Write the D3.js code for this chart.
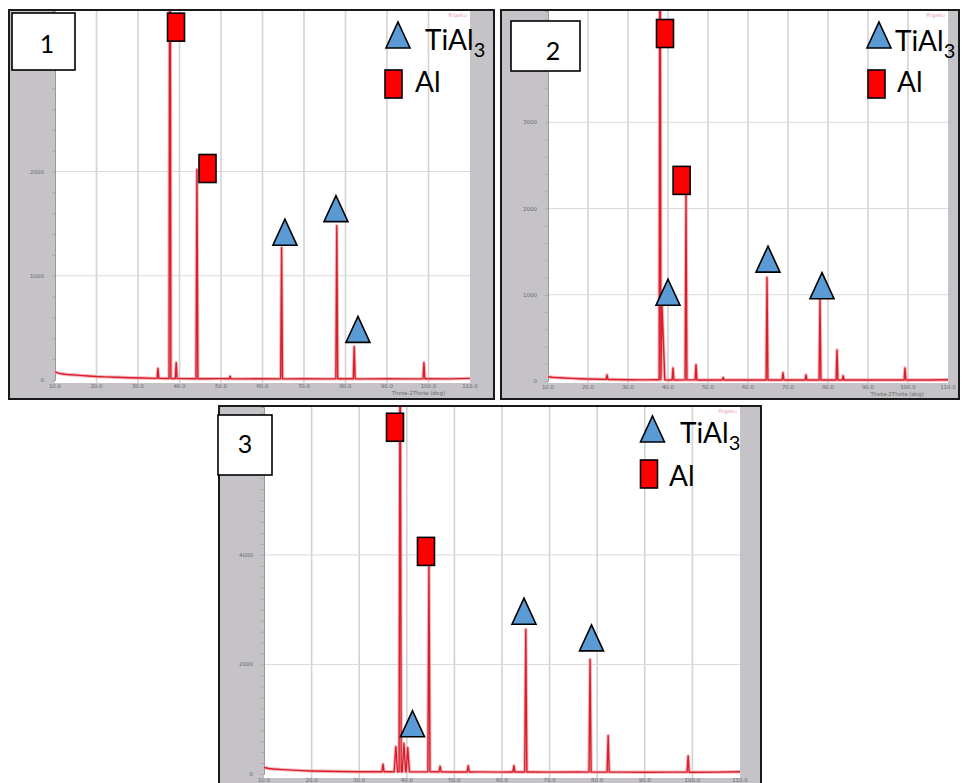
<!DOCTYPE html>
<html>
<head>
<meta charset="utf-8">
<script src="https://cdn.jsdelivr.net/npm/d3@7"></script>
<style>
  body { margin: 0; background: #fff; }
  svg { display: block; }
</style>
</head>
<body>
<svg id="viz"></svg>
<script>
// x axis of every scan: 2Theta (deg)
const twoThetaTicks = [10, 20, 30, 40, 50, 60, 70, 80, 90, 100, 110];

// ---- scan 1 ----  [2theta, counts]
const base1 = [[10, 78], [11, 64], [12, 58], [13, 52], [14, 50], [16, 44], [18, 38], [20, 33], [22, 30], [25, 26],
  [28, 22], [31, 19], [34, 16], [37, 14], [41, 13], [46, 12], [50, 13], [55, 11], [60, 12], [66, 11], [70, 12],
  [75, 11], [80, 12], [86, 11], [90, 12], [95, 11], [100, 12], [105, 11], [110, 16]];
const peaks1 = [[34.8, 110], [37.7, 6000], [39.2, 165], [44.2, 2020], [52.2, 35], [64.6, 1270], [77.9, 1480],
  [82.1, 320], [98.9, 165]];
const marks1 = [["Al", 39.16, 3385], ["Al", 46.75, 2029], ["TiAl3", 65.4, 1418], ["TiAl3", 77.7, 1644], ["TiAl3", 83.0, 486]];
const yTicks1 = [1000, 2000];

// ---- scan 2 ----
const base2 = [[10, 50], [11, 44], [12, 40], [14, 35], [16, 30], [18, 26], [20, 24], [23, 20], [26, 17], [30, 15],
  [34, 13], [37, 14], [42, 12], [46, 13], [50, 11], [55, 12], [60, 11], [66, 12], [70, 11], [76, 12], [80, 11],
  [86, 12], [90, 11], [95, 12], [100, 11], [105, 12], [110, 15]];
const peaks2 = [[24.75, 70], [38.0, 7000], [38.5, 880, 0.7], [41.25, 150], [44.5, 2160], [47.0, 190], [53.8, 40],
  [64.75, 1200], [68.75, 95], [74.5, 70], [78.0, 950], [82.25, 360], [83.8, 60], [99.25, 150]];
const marks2 = [["Al", 39.25, 4029], ["Al", 43.4, 2326], ["TiAl3", 40.0, 1029], ["TiAl3", 65.0, 1413], ["TiAl3", 78.5, 1105]];
const yTicks2 = [1000, 2000, 3000];

// ---- scan 3 ----
const base3 = [[10, 120], [11, 100], [12, 90], [14, 80], [16, 70], [18, 62], [20, 55], [23, 50], [26, 46], [30, 42],
  [34, 40], [37, 42], [42, 38], [46, 40], [50, 36], [55, 38], [60, 35], [66, 37], [70, 34], [76, 36], [80, 34],
  [86, 35], [90, 33], [95, 35], [100, 33], [105, 34], [110, 40]];
const peaks3 = [[35.0, 180], [37.7, 500, 0.35], [38.6, 9000], [39.4, 560, 0.35], [40.2, 480, 0.35], [44.65, 3800],
  [47.0, 140], [52.9, 150], [62.5, 150], [65.0, 2640], [78.5, 2090], [82.3, 700], [99.1, 330]];
const marks3 = [["Al", 37.52, 6330], ["Al", 44.03, 4064], ["TiAl3", 41.2, 917], ["TiAl3", 64.62, 2972], ["TiAl3", 78.8, 2486]];
const yTicks3 = [2000, 4000];

// Layout of the three scans (scan 3 runs off the bottom edge, so its axis title is cut away)
const panels = [
  {
    name: "1", box: [9, 10, 485, 389], plot: [55, 11, 470, 383], y0: 380, yMax: 3540,
    base: base1, peaks: peaks1, marks: marks1, yTicks: yTicks1, axisTitle: true,
    tag: [12, 13, 63, 57], tagText: [47, 53],
    legend: { tri: [398, 35], ti: [425, 50], rect: [393.5, 84], al: [415, 92] },
  },
  {
    name: "2", box: [501, 10, 458, 389], plot: [548, 11, 948, 383], y0: 381, yMax: 4290,
    base: base2, peaks: peaks2, marks: marks2, yTicks: yTicks2, axisTitle: true,
    tag: [511, 21, 69, 50], tagText: [553, 60],
    legend: { tri: [879, 35], ti: [895, 51], rect: [876.5, 84], al: [897, 92] },
  },
  {
    name: "3", box: [219, 406, 542, 385], plot: [264, 407, 740, 778], y0: 774, yMax: 6700,
    base: base3, peaks: peaks3, marks: marks3, yTicks: yTicks3, axisTitle: false,
    tag: [218, 415, 54, 60], tagText: [245, 453],
    legend: { tri: [652.5, 429], ti: [680, 443], rect: [649, 474], al: [669, 486] },
  },
];

const svg = d3.select("#viz").attr("width", 962).attr("height", 783);
const defs = svg.append("defs");

const frameGray = "#c5c3c7";
const smallFont = "DejaVu Sans";
const bigFont = "Lato, 'Open Sans', sans-serif";

// merge baseline and peaks into one scan
function scanPoints(base, peaks) {
  const baseAt = d3.scaleLinear().domain(base.map((d) => d[0])).range(base.map((d) => d[1]));
  const pts = base.filter((b) => !peaks.some(([t, c, w = 0.22]) => Math.abs(b[0] - t) <= w + 0.05));
  peaks.forEach(([t, c, w = 0.22]) => {
    pts.push([t - w, baseAt(t - w)], [t, c], [t + w, baseAt(t + w)]);
  });
  return pts.sort((a, b) => a[0] - b[0]);
}

function drawMark(g, type, cx, cy) {
  if (type === "Al") {
    g.append("rect")
      .attr("x", cx - 8.5).attr("y", cy - 14)
      .attr("width", 17).attr("height", 28)
      .attr("fill", "#ff0000").attr("stroke", "#000").attr("stroke-width", 1.6);
  } else {
    g.append("path")
      .attr("d", `M${cx},${cy - 13}L${cx + 12},${cy + 13}L${cx - 12},${cy + 13}Z`)
      .attr("fill", "#5b9bd5").attr("stroke", "#000").attr("stroke-width", 1.6)
      .attr("stroke-linejoin", "miter");
  }
}

panels.forEach((p, i) => {
  const g = svg.append("g");
  const [px0, py0, px1, py1] = p.plot;

  const x = d3.scaleLinear().domain([10, 110]).range([px0, px1]);
  const y = d3.scaleLinear().domain([0, p.yMax]).range([p.y0, py0]);

  // gray frame with black border
  g.append("rect")
    .attr("x", p.box[0]).attr("y", p.box[1])
    .attr("width", p.box[2]).attr("height", p.box[3])
    .attr("fill", frameGray).attr("stroke", "#1a1a1a").attr("stroke-width", 2);

  // white plotting area
  g.append("rect")
    .attr("x", px0).attr("y", py0)
    .attr("width", px1 - px0).attr("height", py1 - py0)
    .attr("fill", "#fff");

  // vertical grid
  g.selectAll(".vgrid").data(twoThetaTicks.slice(1, -1)).enter().append("line")
    .attr("x1", (d) => x(d)).attr("x2", (d) => x(d))
    .attr("y1", py0).attr("y2", py1)
    .attr("stroke", "#d3d3d3").attr("stroke-width", 1.6);

  // horizontal grid
  g.selectAll(".hgrid").data(p.yTicks).enter().append("line")
    .attr("x1", px0).attr("x2", px1)
    .attr("y1", (d) => y(d)).attr("y2", (d) => y(d))
    .attr("stroke", "#d9d9d9").attr("stroke-width", 1);

  // left axis: minor ticks + labels
  const yAxis = d3.axisLeft(y).tickValues(d3.range(0, p.yMax, 200)).tickSize(3).tickFormat("");
  g.append("g").attr("transform", `translate(${px0},0)`).call(yAxis)
    .call((a) => a.select(".domain").attr("stroke", "#999"))
    .call((a) => a.selectAll("line").attr("stroke", "#aaa"));
  g.selectAll(".ylab").data([0].concat(p.yTicks)).enter().append("text")
    .attr("x", px0 - 11).attr("y", (d) => y(d) + 2)
    .attr("text-anchor", "end")
    .attr("font-family", smallFont).attr("font-size", 5.5).attr("fill", "#6a6a6a")
    .text((d) => d);

  // bottom tick labels
  g.selectAll(".xlab").data(twoThetaTicks).enter().append("text")
    .attr("x", (d) => x(d)).attr("y", p.y0 + 8)
    .attr("text-anchor", "middle")
    .attr("font-family", smallFont).attr("font-size", 5.5).attr("fill", "#6a6a6a")
    .text((d) => d.toFixed(1));
  if (p.axisTitle) {
    g.append("text")
      .attr("x", x(104)).attr("y", p.y0 + 15)
      .attr("text-anchor", "end")
      .attr("font-family", smallFont).attr("font-size", 5.5).attr("fill", "#6a6a6a")
      .text("Theta-2Theta (deg)");
  }

  // faint instrument stamp at the top right
  g.append("text")
    .attr("x", px1 - 3).attr("y", py0 + 6)
    .attr("text-anchor", "end")
    .attr("font-family", smallFont).attr("font-size", 5.5).attr("fill", "#e9a9b4")
    .text("Rigaku");

  // the scan, clipped to the plot area
  defs.append("clipPath").attr("id", `clip${i}`)
    .append("rect").attr("x", px0).attr("y", py0)
    .attr("width", px1 - px0).attr("height", py1 - py0);

  const line = d3.line().x((d) => x(d[0])).y((d) => y(d[1]));
  const pts = scanPoints(p.base, p.peaks);
  const trace = g.append("g").attr("clip-path", `url(#clip${i})`);
  trace.append("path").attr("d", line(pts))
    .attr("fill", "none").attr("stroke", "#f5a3aa").attr("stroke-width", 3.4)
    .attr("stroke-linejoin", "round").attr("opacity", 0.8);
  trace.append("path").attr("d", line(pts))
    .attr("fill", "none").attr("stroke", "#d7202c").attr("stroke-width", 1.4)
    .attr("stroke-linejoin", "round");

  // phase markers
  p.marks.forEach(([type, t, c]) => drawMark(g, type, x(t), y(c)));

  // legend
  const L = p.legend;
  drawMark(g, "TiAl3", L.tri[0], L.tri[1]);
  const tiText = g.append("text")
    .attr("x", L.ti[0]).attr("y", L.ti[1])
    .attr("font-family", bigFont).attr("font-size", 28).attr("fill", "#000");
  tiText.append("tspan").text("TiAl");
  tiText.append("tspan").attr("dy", 7).attr("font-size", 20).text("3");
  drawMark(g, "Al", L.rect[0], L.rect[1]);
  g.append("text")
    .attr("x", L.al[0]).attr("y", L.al[1])
    .attr("font-family", bigFont).attr("font-size", 28).attr("fill", "#000")
    .text("Al");

  // panel number box
  g.append("rect")
    .attr("x", p.tag[0]).attr("y", p.tag[1])
    .attr("width", p.tag[2]).attr("height", p.tag[3])
    .attr("fill", "#fff").attr("stroke", "#000").attr("stroke-width", 1.6);
  g.append("text")
    .attr("x", p.tagText[0]).attr("y", p.tagText[1])
    .attr("text-anchor", "middle")
    .attr("font-family", bigFont).attr("font-size", 25).attr("fill", "#000")
    .text(p.name);
});
</script>
</body>
</html>
